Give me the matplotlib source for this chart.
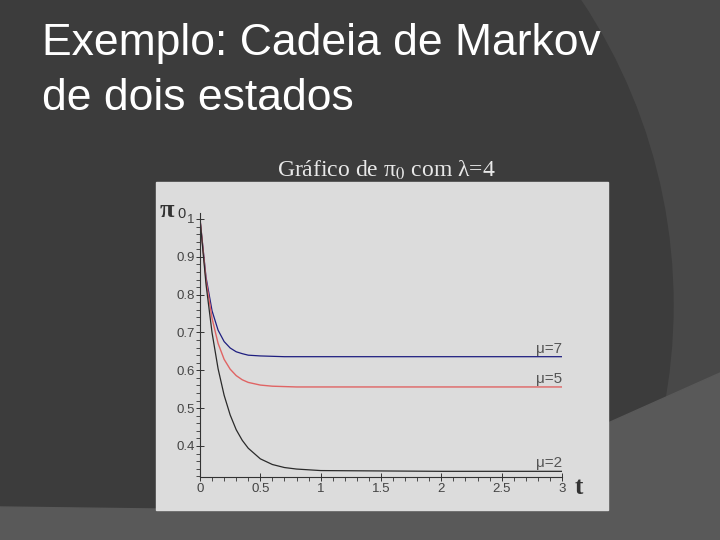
import matplotlib
matplotlib.use('Agg')
import matplotlib.pyplot as plt
import matplotlib.patches as mpatches
from matplotlib.ticker import MultipleLocator

# ── Data (lambda = 4) ────────────────────────────────────────────────────
t_vals = [0.0, 0.05, 0.1, 0.15, 0.2, 0.25, 0.3, 0.35, 0.4, 0.5, 0.6, 0.7,
          0.8, 1.0, 1.5, 2.0, 2.5, 3.0]
pi0_mu7 = [1.0, 0.846, 0.757, 0.706, 0.676, 0.659, 0.649, 0.644, 0.640,
           0.638, 0.637, 0.636, 0.636, 0.636, 0.636, 0.636, 0.636, 0.636]
pi0_mu5 = [1.0, 0.839, 0.737, 0.671, 0.629, 0.603, 0.586, 0.575, 0.568,
           0.561, 0.558, 0.557, 0.556, 0.556, 0.556, 0.556, 0.556, 0.556]
pi0_mu2 = [1.0, 0.827, 0.699, 0.604, 0.534, 0.482, 0.443, 0.415, 0.394,
           0.366, 0.351, 0.343, 0.339, 0.335, 0.334, 0.333, 0.333, 0.333]
series_labels = ['μ=7', 'μ=5', 'μ=2']

W, H = 720, 540
fig = plt.figure(figsize=(7.2, 5.4), dpi=100)

# ── Slide background (pixel coords) ──────────────────────────────────────
bg = fig.add_axes([0, 0, 1, 1])
bg.set_xlim(0, W)
bg.set_ylim(H, 0)
bg.axis('off')
bg.add_patch(mpatches.Rectangle((0, 0), W, H, color='#484848', zorder=0))
bg.add_patch(mpatches.Circle((124, 305), 549, color='#3c3c3c', zorder=1))
bg.add_patch(mpatches.Polygon([(0, 507), (156, 509), (608, 509), (608, 423),
                               (720, 373), (720, 540), (0, 540)],
                              closed=True, color='#595959', zorder=2))
bg.add_patch(mpatches.Rectangle((156, 182), 452, 328, color='#dcdcdc', zorder=3))

# ── Slide titles ─────────────────────────────────────────────────────────
fig.text(42 / W, 1 - 55 / H, 'Exemplo: Cadeia de Markov', color='white',
         fontsize=32, family='Liberation Sans', va='baseline', ha='left')
fig.text(42 / W, 1 - 110 / H, 'de dois estados', color='white',
         fontsize=32, family='Liberation Sans', va='baseline', ha='left')
plt.rcParams['mathtext.fontset'] = 'stix'
fig.text(386 / W, 1 - 177 / H, 'Gráfico de π$_0$ com λ=4', color='#e8e8e8',
         fontsize=17, family='Liberation Serif', va='baseline', ha='center')

# ── Plot ─────────────────────────────────────────────────────────────────
ax = fig.add_axes([200 / W, 1 - 477 / H, 362 / W, 264 / H])
ax.patch.set_alpha(0)
ax.set_xlim(0, 3)
ax.set_ylim(0.318, 1.0158)

ax.plot(t_vals, pi0_mu7, color='#1e1e80', lw=0.9)
ax.plot(t_vals, pi0_mu5, color='#e06464', lw=1.0)
ax.plot(t_vals, pi0_mu2, color='#2a2a2a', lw=0.9)

for vals, lab in zip([pi0_mu7, pi0_mu5, pi0_mu2], series_labels):
    ax.text(t_vals[-1], vals[-1] + 0.003, lab, ha='right', va='bottom',
            fontsize=11, color='#555555', family='Liberation Sans')

for side in ['top', 'right']:
    ax.spines[side].set_visible(False)
for side in ['left', 'bottom']:
    ax.spines[side].set_color('#333333')
    ax.spines[side].set_linewidth(0.8)

ax.xaxis.set_minor_locator(MultipleLocator(0.1))
ax.yaxis.set_minor_locator(MultipleLocator(0.02))
ax.set_xticks([0, 0.5, 1, 1.5, 2, 2.5, 3])
ax.set_xticklabels(['0', '0.5', '1', '1.5', '2', '2.5', '3'])
ax.set_yticks([0.4, 0.5, 0.6, 0.7, 0.8, 0.9, 1.0])
ax.set_yticklabels(['0.4', '0.5', '0.6', '0.7', '0.8', '0.9', '1'])
ax.tick_params(which='major', direction='inout', length=6, width=0.7,
               colors='#333333', labelsize=9.5, pad=1)
ax.tick_params(which='minor', direction='out', length=3, width=0.6,
               colors='#333333')
for lbl in ax.get_xticklabels() + ax.get_yticklabels():
    lbl.set_family('Liberation Sans')
    lbl.set_color('#444444')

# axis names
fig.text(160 / W, 1 - 217 / H, 'π', fontsize=19, fontweight='bold',
         family='Liberation Serif', color='#333333', va='baseline')
fig.text(177 / W, 1 - 218 / H, '0', fontsize=10.5,
         family='Liberation Sans', color='#333333', va='baseline')
fig.text(575 / W, 1 - 494 / H, 't', fontsize=18, fontweight='bold',
         family='Liberation Serif', color='#333333', va='baseline')

fig.savefig('out.png', dpi=100)
